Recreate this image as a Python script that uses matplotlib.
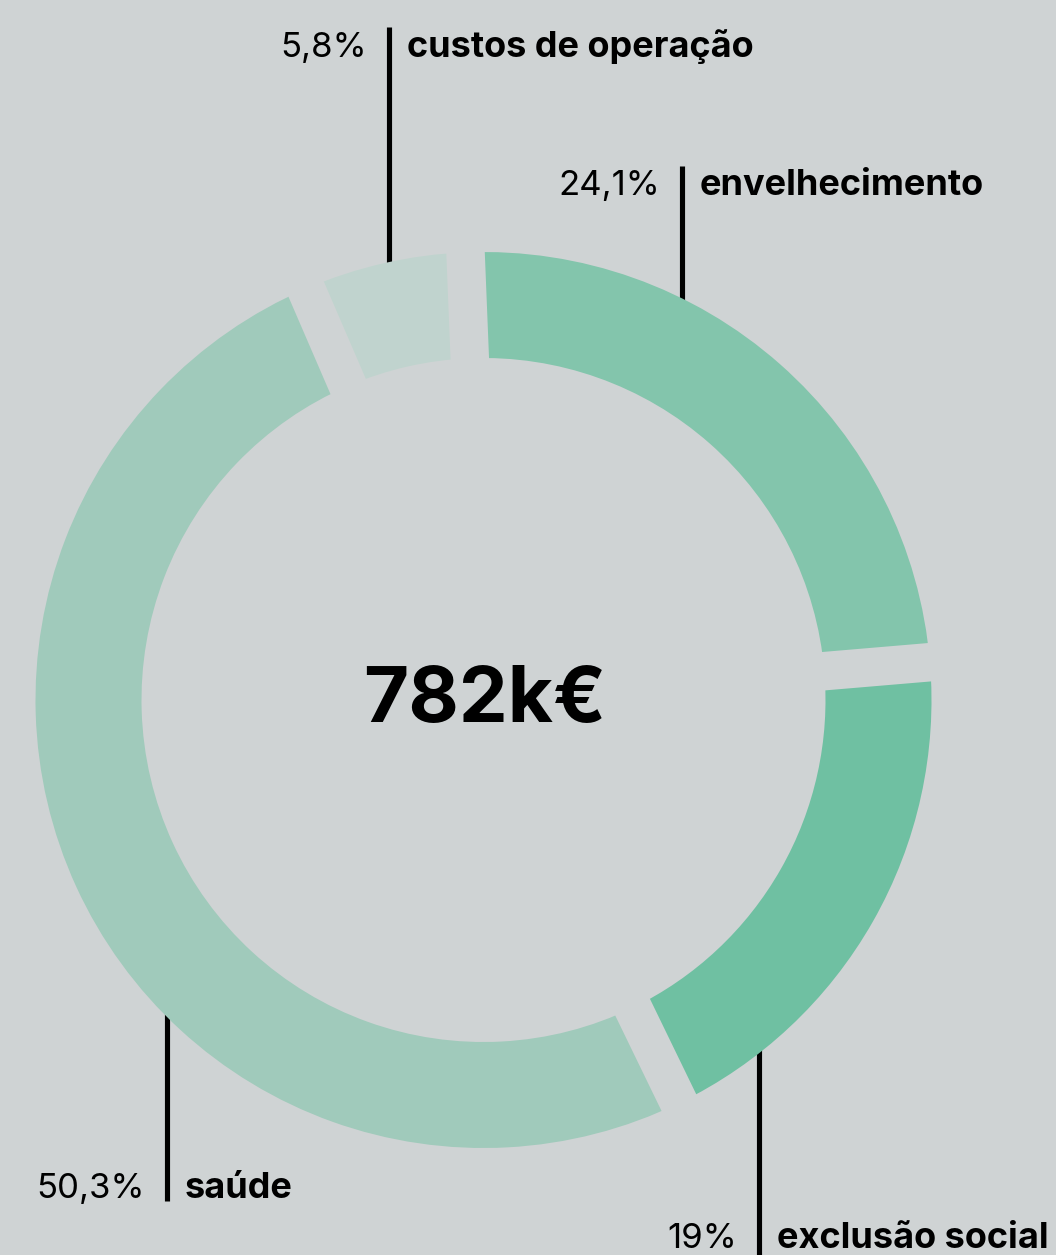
import numpy as np
import matplotlib
matplotlib.use("Agg")
import matplotlib.pyplot as plt

# data
categories = ["envelhecimento", "exclusão social", "saúde", "custos de operação"]
shares = [24.1, 19.0, 50.3, 5.8]
pct_labels = ["24,1%", "19%", "50,3%", "5,8%"]
colors = ["#83c5ac", "#6fc0a2", "#a0cabb", "#c0d3ce"]
total_label = "782k€"

BG = "#cfd3d4"
W, H = 1056, 1255

plt.rcParams['font.family'] = ['Inter', 'DejaVu Sans']

fig = plt.figure(figsize=(W / 100, H / 100), dpi=100, facecolor=BG)
ax = fig.add_axes([0, 0, 1, 1])
ax.set_facecolor(BG)

cx, cy = 483.5, H - 700
R, ring = 448, 106

wedges, _ = ax.pie(shares, colors=colors, startangle=92.3, counterclock=False,
                   radius=R, center=(cx, cy), frame=True,
                   wedgeprops=dict(width=ring, linewidth=0))
for w in wedges:
    w.set_zorder(2)
ax.set_xlim(0, W)
ax.set_ylim(0, H)
ax.axis("off")

# gaps between segments (constant width)
gap_lw = 38.5 * 0.72
for w in wedges:
    t = np.deg2rad(w.theta1)
    r0, r1 = R - ring - 15, R + 15
    ax.plot([cx + r0 * np.cos(t), cx + r1 * np.cos(t)],
            [cy + r0 * np.sin(t), cy + r1 * np.sin(t)],
            color=BG, lw=gap_lw, solid_capstyle="butt", zorder=3)

# callouts: (line x, text baseline y, line end y, side)
callouts = {
    "custos de operação": (389, 56.7, 26.7, "top"),
    "envelhecimento": (681.7, 195, 165.7, "top"),
    "saúde": (167, 1198, 1201, "bottom"),
    "exclusão social": (759.3, 1248.3, 1260, "bottom"),
}
for cat, pct in zip(categories, pct_labels):
    lx, base, end, side = callouts[cat]
    dy = np.sqrt(R ** 2 - (lx - cx) ** 2)
    if side == "top":
        ring_y = cy + dy - 20
    else:
        ring_y = cy - dy + 20
    ax.plot([lx, lx], [H - end, ring_y], color="black", lw=3.7,
            solid_capstyle="butt", zorder=1)
    ax.text(lx - 22, H - base, pct, ha="right", va="baseline",
            fontsize=25, color="black", zorder=5)
    ax.text(lx + 18, H - base, cat, ha="left", va="baseline",
            fontsize=26, fontweight="bold", color="black", zorder=5)

ax.text(485, H - 721.7, total_label, ha="center", va="baseline",
        fontsize=56, fontweight="bold", color="black", zorder=5)

fig.savefig("out.png", dpi=100, facecolor=BG)
